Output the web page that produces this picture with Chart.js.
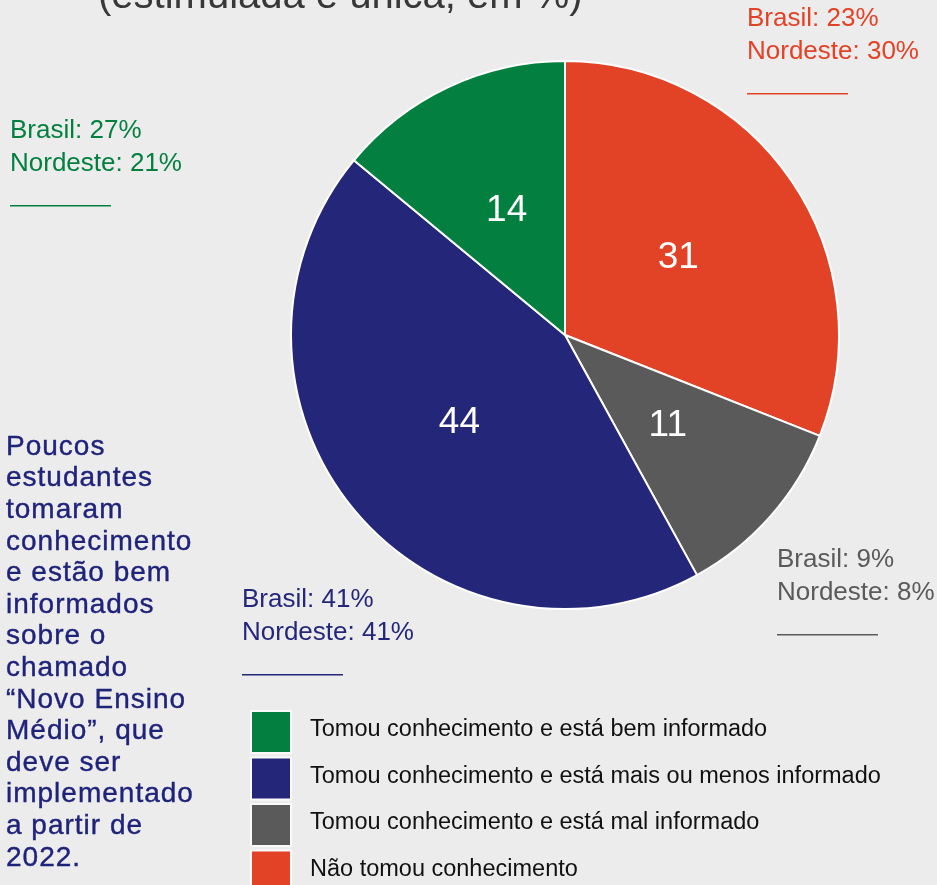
<!DOCTYPE html>
<html lang="pt-BR">
<head>
<meta charset="utf-8">
<title>Novo Ensino Médio</title>
<script src="https://cdn.jsdelivr.net/npm/chart.js@4"></script>
<style>
  html, body { margin: 0; padding: 0; background: #ececec; }
  #wrap { position: relative; width: 937px; height: 885px; overflow: hidden; }
  canvas { display: block; }
</style>
</head>
<body>
<div id="wrap"><canvas id="pie" width="937" height="885"></canvas></div>
<script>
// pie order, clockwise from 12 o'clock
const categories = [
  'Não tomou conhecimento',
  'Tomou conhecimento e está mal informado',
  'Tomou conhecimento e está mais ou menos informado',
  'Tomou conhecimento e está bem informado',
];
const values = [31, 11, 44, 14];
const brasil = [23, 9, 41, 27];
const nordeste = [30, 8, 41, 21];
const colors = ['#e24226', '#5a5a5a', '#24267a', '#038040'];

const title = '(estimulada e única, em %)';
const note = ['Poucos', 'estudantes', 'tomaram', 'conhecimento', 'e estão bem', 'informados',
  'sobre o', 'chamado', '“Novo Ensino', 'Médio”, que', 'deve ser', 'implementado',
  'a partir de', '2022.'];

// where the Brasil / Nordeste callouts sit, same order as categories
const calloutPos = [
  { x: 747, y: 19 },
  { x: 777, y: 560 },
  { x: 242, y: 600 },
  { x: 10, y: 131 },
];

const FONT = '"Liberation Sans", Arial, sans-serif';

const extras = {
  id: 'extras',
  afterDatasetsDraw(chart) {
    const ctx = chart.ctx;
    const meta = chart.getDatasetMeta(0);
    ctx.save();
    ctx.fillStyle = '#fff';
    ctx.font = `37px ${FONT}`;
    ctx.textAlign = 'center';
    ctx.textBaseline = 'middle';
    meta.data.forEach((arc, i) => {
      const p = arc.tooltipPosition();
      ctx.fillText(String(values[i]), p.x, p.y);
    });
    ctx.restore();
  },
  afterDraw(chart) {
    const ctx = chart.ctx;
    ctx.save();

    // title, cut off by the top edge
    ctx.fillStyle = '#383838';
    ctx.font = `40px ${FONT}`;
    ctx.textAlign = 'left';
    ctx.textBaseline = 'alphabetic';
    ctx.fillText(title, 98, 8);

    // Brasil / Nordeste callouts
    ctx.font = `26px ${FONT}`;
    ctx.textBaseline = 'middle';
    categories.forEach((c, i) => {
      const p = calloutPos[i];
      ctx.fillStyle = colors[i];
      ctx.fillText(`Brasil: ${brasil[i]}%`, p.x, p.y);
      ctx.fillText(`Nordeste: ${nordeste[i]}%`, p.x, p.y + 33);
      ctx.fillRect(p.x, p.y + 74, 101, 1.5);
    });

    // side note
    ctx.fillStyle = '#1f237a';
    ctx.strokeStyle = '#1f237a';
    ctx.lineWidth = 0.4;
    ctx.font = `28px ${FONT}`;
    ctx.letterSpacing = '1px';
    note.forEach((line, i) => {
      const y = 447 + i * 31.6;
      ctx.fillText(line, 6, y);
      ctx.strokeText(line, 6, y);
    });
    ctx.letterSpacing = '0px';

    // legend, reverse of pie order
    ctx.font = `23.5px ${FONT}`;
    const order = [3, 2, 1, 0];
    order.forEach((idx, row) => {
      const y = 712 + row * 46.5;
      ctx.fillStyle = '#fafafa';
      ctx.fillRect(250, y - 2, 42, 44);
      ctx.fillStyle = colors[idx];
      ctx.fillRect(252, y, 38, 40);
      ctx.fillStyle = '#111';
      ctx.fillText(categories[idx], 310, y + 18);
    });
    ctx.restore();
  },
};

new Chart(document.getElementById('pie'), {
  type: 'pie',
  data: {
    labels: categories,
    datasets: [{
      data: values,
      backgroundColor: colors,
      borderColor: '#ffffff',
      borderWidth: 2,
    }],
  },
  options: {
    responsive: false,
    animation: false,
    layout: { padding: { left: 290, right: 97, top: 60, bottom: 275 } },
    plugins: { legend: { display: false }, tooltip: { enabled: false } },
  },
  plugins: [extras],
});
</script>
</body>
</html>
